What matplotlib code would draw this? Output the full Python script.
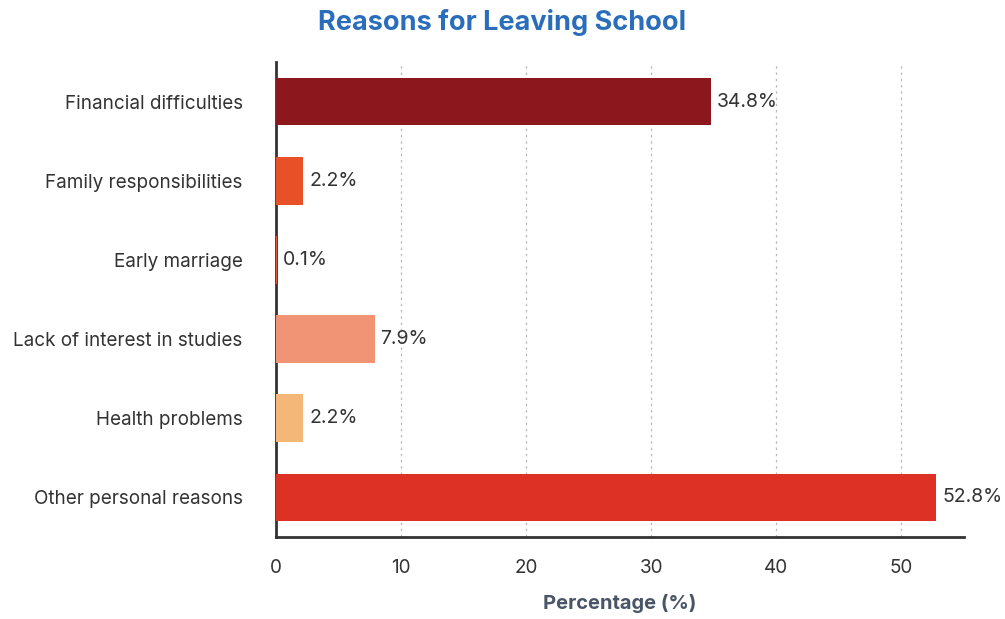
import numpy as np
import matplotlib
matplotlib.use('Agg')
import matplotlib.pyplot as plt

plt.rcParams['font.family'] = ['Inter', 'DejaVu Sans']

# Datos
reasons = ['Financial difficulties', 'Family responsibilities', 'Early marriage',
           'Lack of interest in studies', 'Health problems', 'Other personal reasons']
values = [34.8, 2.2, 0.1, 7.9, 2.2, 52.8]
colors = ['#8C181E', '#E85027', '#E8503A', '#F09475', '#F5B778', '#DD3126']

fig = plt.figure(figsize=(10.05, 6.19), dpi=100)
ax = fig.add_axes([0.2746, 0.1325, 0.6846, 0.7673])

y = np.arange(len(reasons))
ax.barh(y, values, height=0.6, color=colors, zorder=3)
for yi, v in zip(y, values):
    ax.text(v + 0.45, yi, f'{v}%', va='center', ha='left', fontsize=14, color='#333333')

ax.set_yticks(y)
ax.set_yticklabels(reasons)
ax.set_ylim(5.5, -0.5)
ax.set_xlim(0, 55)
ax.set_xticks([0, 10, 20, 30, 40, 50])
ax.tick_params(axis='both', length=0, labelsize=13.6, colors='#333333')
ax.tick_params(axis='x', pad=16)
ax.tick_params(axis='y', pad=24)

ax.grid(axis='x', linestyle=(0, (2, 3)), color='#bbbbbb', linewidth=0.9, zorder=0)
for s in ['top', 'right']:
    ax.spines[s].set_visible(False)
for s in ['left', 'bottom']:
    ax.spines[s].set_color('#333333')
    ax.spines[s].set_linewidth(2)

ax.set_xlabel('Percentage (%)', fontsize=14.5, fontweight='bold', color='#4A5568', labelpad=12)
fig.suptitle('Reasons for Leaving School', fontsize=19.5, fontweight='bold', color='#2A6EBB', y=0.985)

plt.savefig('out.png', dpi=100)
